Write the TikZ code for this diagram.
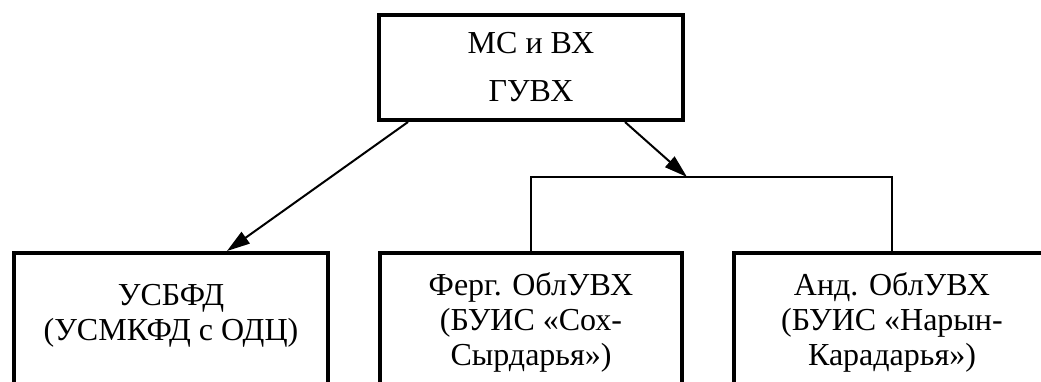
\documentclass[tikz,border=0pt]{standalone}
\usepackage{fontspec}
\setmainfont{Liberation Serif}
\usetikzlibrary{arrows.meta}
\begin{document}
\begin{tikzpicture}[x=0.5pt,y=-0.5pt,>={Triangle[length=11.5pt,width=7pt]},
	orgbox/.style={draw,line width=2pt,align=center,inner sep=0pt,font=\fontsize{16}{17.5}\selectfont}]
	\useasboundingbox (0,0) rectangle (1041,381);
	\clip (0,0) rectangle (1041,381);
	\node[orgbox,minimum width=152pt,minimum height=52.5pt,font=\fontsize{16}{24}\selectfont] (mc) at (531,67.5) {МС и ВХ\\ГУВХ};
	\node[orgbox,anchor=north,minimum width=157pt,minimum height=70pt,text depth=10.5pt] (usb) at (171,251) {УСБФД\\(УСМКФД с ОДЦ)};
	\node[orgbox,anchor=north,minimum width=151pt,minimum height=69pt] (ferg) at (531,251) {Ферг. ОблУВХ\\(БУИС «Сох-\\Сырдарья»)};
	\node[orgbox,anchor=north,minimum width=158pt,minimum height=69pt] (and) at (892,251) {Анд. ОблУВХ\\(БУИС «Нарын-\\Карадарья»)};
	\coordinate (bar) at (687,177);
	\draw[line width=1pt] (ferg.north) |- (bar) -| (and.north);
	\draw[->,line width=1pt] ([xshift=-61.5pt]mc.south) -- ([xshift=28pt]usb.north);
	\draw[->,line width=1pt] ([xshift=47pt]mc.south) -- (bar);
\end{tikzpicture}
\end{document}
